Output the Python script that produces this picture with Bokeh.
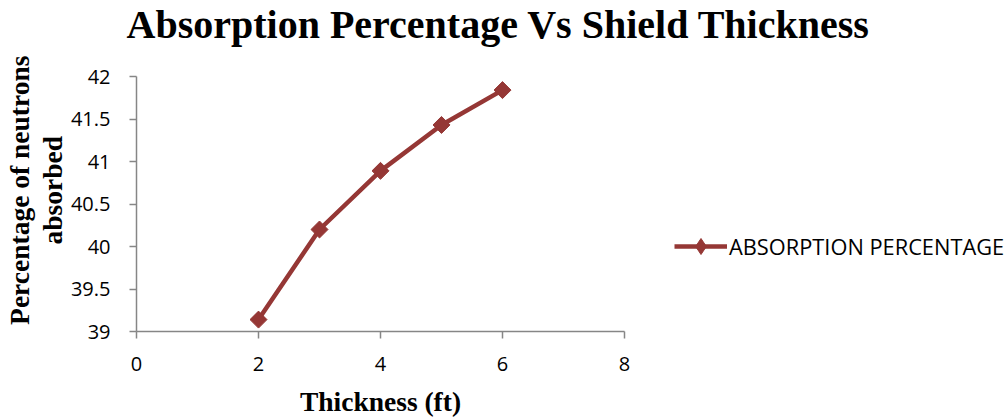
import math

from bokeh.embed import file_html
from bokeh.models import (FixedTicker, Legend, LegendItem,
                          NumeralTickFormatter, Range1d, Title)
from bokeh.plotting import figure
from bokeh.resources import INLINE

# Shield thickness (ft) and share of neutrons absorbed (%)
thickness = [2, 3, 4, 5, 6]
absorption = [39.14, 40.2, 40.89, 41.43, 41.84]

x_ticks = [0, 2, 4, 6, 8]
y_ticks = [39, 39.5, 40, 40.5, 41, 41.5, 42]

title_text = "Absorption Percentage Vs Shield Thickness"
x_label_text = "Thickness (ft)"
y_label_lines = ["Percentage of neutrons", "absorbed"]
series_name = "ABSORPTION PERCENTAGE"

LINE_COLOR = "#953735"
AXIS_COLOR = "#868686"
SERIF = "Liberation Serif"
SANS = "Open Sans"

p = figure(
    frame_width=488, frame_height=255,
    x_range=Range1d(0, 8), y_range=Range1d(39, 42),
    output_backend="svg", toolbar_location=None,
    min_border_left=136, min_border_right=384,
    min_border_top=76, min_border_bottom=86,
)
p.outline_line_color = None
p.background_fill_color = "white"
p.border_fill_color = "white"
p.xgrid.visible = False
p.ygrid.visible = False

# main heading, flush with the top of the canvas
p.title.text = title_text
p.title.align = "left"
p.title.offset = -10
p.title.vertical_align = "top"
p.title.standoff = 0
p.title.text_font = SERIF
p.title.text_font_style = "bold"
p.title.text_font_size = "40px"
p.title.text_color = "black"

# blank spacer row between the heading and the plot area
p.add_layout(Title(text="\u00a0", text_font_size="10px", standoff=15),
             "above")

for ax in (p.xaxis[0], p.yaxis[0]):
    ax.axis_line_color = AXIS_COLOR
    ax.axis_line_width = 1.5
    ax.major_tick_line_color = AXIS_COLOR
    ax.major_tick_line_width = 1.5
    ax.major_tick_out = 7
    ax.major_tick_in = 0
    ax.minor_tick_line_color = None
    ax.major_label_text_font = SANS
    ax.major_label_text_font_size = "20px"
    ax.major_label_text_color = "black"
    ax.formatter = NumeralTickFormatter(format="0.[0]")
    ax.axis_label_text_font = SERIF
    ax.axis_label_text_font_style = "bold"
    ax.axis_label_text_font_size = "27.5px"
    ax.axis_label_text_color = "black"

p.xaxis.ticker = FixedTicker(ticks=x_ticks)
p.yaxis.ticker = FixedTicker(ticks=y_ticks)
p.xaxis.major_label_standoff = 18
p.yaxis.major_label_standoff = 19

p.xaxis.axis_label = x_label_text
p.xaxis.axis_label_standoff = 12
# leading no-break spaces nudge the rotated label toward the top of the axis
pad = "\u00a0" * 4
p.yaxis.axis_label = "\n".join(pad + s for s in y_label_lines)
p.yaxis.axis_label_standoff = 0
p.yaxis.axis_label_text_line_height = 1.05

line = p.line(thickness, absorption, line_color=LINE_COLOR, line_width=4.5)
marks = p.scatter(thickness, absorption, marker="square", size=12,
                  angle=math.pi / 4, fill_color=LINE_COLOR,
                  line_color=LINE_COLOR)
# legend swatch: an unrotated diamond, since legends draw markers at angle 0
swatch = p.scatter(thickness, absorption, marker="diamond", size=16,
                   fill_color=LINE_COLOR, line_color=LINE_COLOR,
                   visible=False)

legend = Legend(
    items=[LegendItem(label=series_name, renderers=[line, swatch])],
    location=(50, 65),
    padding=0, margin=0, spacing=0,
    glyph_width=53, glyph_height=40, label_height=40,
    label_standoff=2,
    label_text_font=SANS, label_text_font_size="21.8px",
    label_text_color="black",
    border_line_color=None, background_fill_alpha=0,
)
p.add_layout(legend, "right")

open("out.html", "w").write(file_html(p, INLINE))
